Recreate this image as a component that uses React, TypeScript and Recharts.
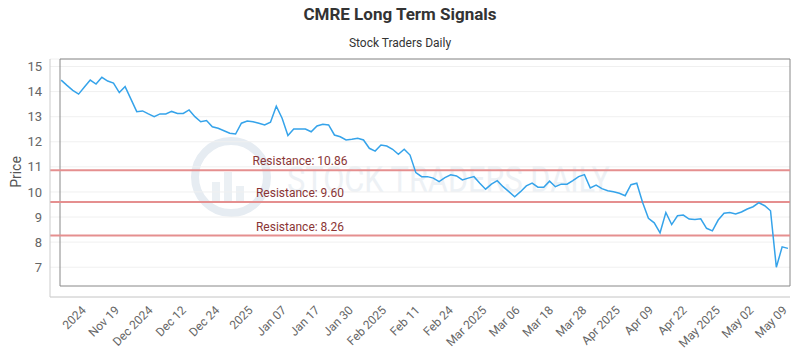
import {
  LineChart,
  Line,
  XAxis,
  YAxis,
  CartesianGrid,
  ReferenceLine,
  ReferenceArea,
} from 'recharts';

// closing prices, one per trading day
const prices = [
  14.46, 14.25, 14.05, 13.9, 14.18, 14.46, 14.3, 14.57, 14.42, 14.34,
  13.96, 14.2, 13.7, 13.2, 13.23, 13.11, 13.0, 13.11, 13.11, 13.21,
  13.13, 13.13, 13.27, 13.0, 12.8, 12.85, 12.6, 12.54, 12.44, 12.34,
  12.31, 12.74, 12.83, 12.8, 12.74, 12.67, 12.78, 13.42, 12.94, 12.25,
  12.51, 12.51, 12.51, 12.4, 12.63, 12.7, 12.67, 12.27, 12.2, 12.07,
  12.1, 12.14, 12.07, 11.74, 11.63, 11.87, 11.83, 11.7, 11.5, 11.7,
  11.47, 10.77, 10.61, 10.61, 10.55, 10.41, 10.57, 10.68, 10.64, 10.48,
  10.55, 10.61, 10.35, 10.11, 10.31, 10.45, 10.21, 10.01, 9.81, 10.01,
  10.24, 10.35, 10.19, 10.19, 10.43, 10.21, 10.31, 10.31, 10.45, 10.61,
  10.69, 10.16, 10.27, 10.13, 10.05, 10.01, 9.95, 9.85, 10.29, 10.35,
  9.58, 8.95, 8.77, 8.37, 9.18, 8.7, 9.05, 9.08, 8.92, 8.9,
  8.93, 8.55, 8.45, 8.88, 9.15, 9.18, 9.12, 9.2, 9.32, 9.41,
  9.57, 9.45, 9.25, 7.0, 7.81, 7.75,
];

const tickLabels = [
  '2024', 'Nov 19', 'Dec 2024', 'Dec 12', 'Dec 24', '2025', 'Jan 07', 'Jan 17',
  'Jan 30', 'Feb 2025', 'Feb 11', 'Feb 24', 'Mar 2025', 'Mar 06', 'Mar 18',
  'Mar 28', 'Apr 2025', 'Apr 09', 'Apr 22', 'May 2025', 'May 02', 'May 09',
];

const resistanceLevels = [10.86, 9.6, 8.26];
const yTicks = [7, 8, 9, 10, 11, 12, 13, 14, 15];

const data = prices.map((price, idx) => ({ idx, price }));

// labels sit evenly spaced along the category axis
const tickPositions = tickLabels.map((_, k) => +(3.35 + k * 5.741).toFixed(3));
const xDomain = [-0.2, 125.35];
const yDomain = [6.25, 15.3];

const FONT = 'Roboto, "Open Sans", sans-serif';

function formatTick(v: number) {
  let best = 0;
  tickPositions.forEach((p, i) => {
    if (Math.abs(p - v) < Math.abs(tickPositions[best] - v)) best = i;
  });
  return tickLabels[best];
}

function ResistanceLabel({ viewBox, text }: any) {
  if (!viewBox) return null;
  return (
    <text
      x={viewBox.x + 250}
      y={viewBox.y - 5}
      textAnchor="middle"
      fill="#8a3535"
      fontSize={12}
      fontFamily={FONT}
    >
      {text}
    </text>
  );
}

function Watermark() {
  return (
    <svg
      width={800}
      height={350}
      style={{ position: 'absolute', left: 0, top: 0 }}
    >
      <circle cx={231} cy={177} r={36} fill="none" stroke="#e6ecf2" strokeWidth={8} />
      <rect x={212} y={182} width={8} height={20} fill="#ebf0f4" />
      <rect x={224} y={172} width={8} height={30} fill="#ebf0f4" />
      <rect x={236} y={186} width={8} height={16} fill="#ebf0f4" />
      <text
        x={287}
        y={192}
        fontSize={36}
        fontFamily={FONT}
        fill="#edf1f5"
        textLength={323}
        lengthAdjust="spacingAndGlyphs"
      >
        STOCK TRADERS DAILY
      </text>
    </svg>
  );
}

export default function App() {
  return (
    <div style={{ position: 'absolute', left: 0, top: 0, width: 800, height: 350, background: '#fff' }}>
      <Watermark />
      <div
        style={{
          position: 'absolute',
          top: 4,
          width: 800,
          textAlign: 'center',
          fontFamily: FONT,
          fontWeight: 700,
          fontSize: 17,
          color: '#333',
        }}
      >
        CMRE Long Term Signals
      </div>
      <div
        style={{
          position: 'absolute',
          top: 36,
          width: 800,
          textAlign: 'center',
          fontFamily: FONT,
          fontSize: 12,
          color: '#333',
        }}
      >
        Stock Traders Daily
      </div>
      <div
        style={{
          position: 'absolute',
          left: 16,
          top: 172,
          transform: 'translate(-50%, -50%) rotate(-90deg)',
          fontFamily: FONT,
          fontSize: 14,
          color: '#555',
        }}
      >
        Price
      </div>
      <div style={{ position: 'absolute', left: 0, top: 0 }}>
        <LineChart
          width={800}
          height={350}
          data={data}
          margin={{ top: 59, right: 10, bottom: 0, left: 0 }}
        >
          <CartesianGrid horizontal vertical={false} stroke="#f0f0f0" />
          <XAxis
            dataKey="idx"
            type="number"
            domain={xDomain}
            ticks={tickPositions}
            interval={0}
            tickFormatter={formatTick}
            padding={{ left: 10, right: 0 }}
            height={53}
            angle={-45}
            textAnchor="end"
            tickLine={false}
            axisLine={{ stroke: '#ccc' }}
            tick={{ fill: '#666', fontSize: 12, fontFamily: FONT }}
          />
          <YAxis
            type="number"
            domain={yDomain}
            ticks={yTicks}
            padding={{ top: 0, bottom: 11 }}
            width={50}
            tickLine={false}
            axisLine={{ stroke: '#ccc' }}
            tick={{ fill: '#666', fontSize: 13, fontFamily: FONT }}
          />
          <ReferenceArea
            x1={xDomain[0]}
            x2={xDomain[1]}
            y1={yDomain[0]}
            y2={yDomain[1]}
            fill="none"
            stroke="#888"
            strokeWidth={1}
          />
          {resistanceLevels.map((r) => (
            <ReferenceLine
              key={r}
              y={r}
              stroke="#e58f8f"
              strokeWidth={2}
              label={<ResistanceLabel text={`Resistance: ${r.toFixed(2)}`} />}
            />
          ))}
          <Line
            type="linear"
            dataKey="price"
            stroke="#35a3ea"
            strokeWidth={1.5}
            dot={false}
            isAnimationActive={false}
          />
        </LineChart>
      </div>
    </div>
  );
}
